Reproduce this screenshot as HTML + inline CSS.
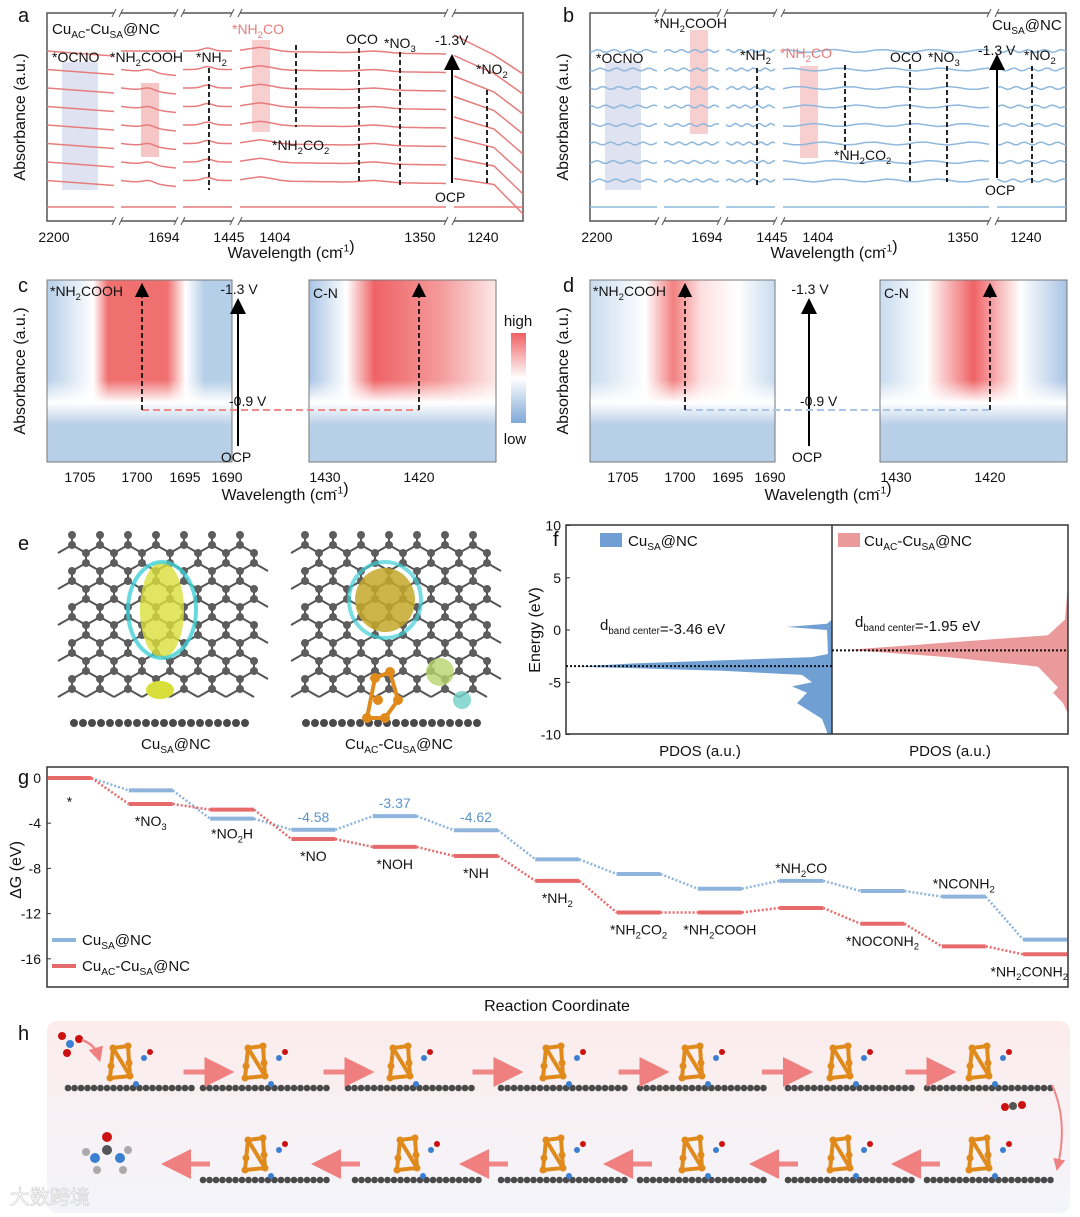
<!DOCTYPE html>
<html><head><meta charset="utf-8">
<style>
body{margin:0;background:#fff;}
svg{display:block;font-family:"Liberation Sans","Noto Sans CJK SC",sans-serif;}
</style></head>
<body>
<svg id="fig" width="1080" height="1217" viewBox="0 0 1080 1217" xmlns="http://www.w3.org/2000/svg">
<defs>
<linearGradient id="cbar" x1="0" y1="0" x2="0" y2="1"><stop offset="0" stop-color="#ef5f62"/><stop offset="0.5" stop-color="#ffffff"/><stop offset="1" stop-color="#7ea8d6"/></linearGradient>
<linearGradient id="hbg" x1="0" y1="0" x2="0" y2="1"><stop offset="0" stop-color="#fcecec"/><stop offset="1" stop-color="#f3f5fb"/></linearGradient>
<linearGradient id="hmL" x1="0" y1="0" x2="1" y2="0"><stop offset="0" stop-color="#b6cfe8"/><stop offset="0.25" stop-color="#ffffff"/><stop offset="0.33" stop-color="#f07070"/><stop offset="0.65" stop-color="#f07070"/><stop offset="0.75" stop-color="#ffffff"/><stop offset="0.85" stop-color="#b6cfe8"/></linearGradient>
<linearGradient id="hmR" x1="0" y1="0" x2="1" y2="0"><stop offset="0" stop-color="#a8c4e4"/><stop offset="0.2" stop-color="#ffffff"/><stop offset="0.35" stop-color="#ef6265"/><stop offset="0.7" stop-color="#f49a9a"/><stop offset="1" stop-color="#fde8e8"/></linearGradient>
<linearGradient id="hmLd" x1="0" y1="0" x2="1" y2="0"><stop offset="0" stop-color="#c9dcef"/><stop offset="0.3" stop-color="#ffffff"/><stop offset="0.45" stop-color="#f28080"/><stop offset="0.6" stop-color="#fde0e0"/><stop offset="0.8" stop-color="#ffffff"/><stop offset="1" stop-color="#c9dcef"/></linearGradient>
<linearGradient id="hmRd" x1="0" y1="0" x2="1" y2="0"><stop offset="0" stop-color="#c9dcef"/><stop offset="0.25" stop-color="#ffffff"/><stop offset="0.5" stop-color="#ef6265"/><stop offset="0.75" stop-color="#ffffff"/><stop offset="1" stop-color="#a8c4e4"/></linearGradient>
<linearGradient id="fadeB" x1="0" y1="0" x2="0" y2="1"><stop offset="0" stop-color="#fff" stop-opacity="0"/><stop offset="0.5" stop-color="#ffffff" stop-opacity="1"/><stop offset="1" stop-color="#b8cfe8" stop-opacity="1"/></linearGradient>
<marker id="ah" markerWidth="8" markerHeight="8" refX="4" refY="4" orient="auto"><path d="M0,0 L8,4 L0,8 z" fill="#000"/></marker>
<marker id="ahr" markerWidth="6" markerHeight="6" refX="3" refY="3" orient="auto"><path d="M0,0 L6,3 L0,6 z" fill="#f07f7f"/></marker>
</defs>
<g id="root"></g>
</svg>
<script>
// ===== Panel g data =====
const gStates = ["*","*NO3","*NO2H","*NO","*NOH","*NH","*NH2","*NH2CO2","*NH2COOH","*NH2CO","*NOCONH2","*NCONH2","*NH2CONH2"];
const gBlue = [0,-1.1,-3.6,-4.58,-3.37,-4.62,-7.2,-8.5,-9.8,-9.1,-10.0,-10.5,-14.3];
const gRed = [0,-2.3,-2.8,-5.4,-6.1,-6.9,-9.1,-11.9,-11.9,-11.5,-12.9,-14.9,-15.6];
const gYTicks = [0,-4,-8,-12,-16];
const gBlueLabels = ["","","","-4.58","-3.37","-4.62","","","","","","",""];
// ===== Panel a/b data =====
const aXTicks = ["2200","1694","1445","1404","1350","1240"];
const fYTicks = [10,5,0,-5,-10];
const fBlueCenter = -3.46, fRedCenter = -1.95;

const NS="http://www.w3.org/2000/svg";
const root=document.getElementById('root');
function el(tag,attrs,parent,text){const e=document.createElementNS(NS,tag);for(const k in attrs)e.setAttribute(k,attrs[k]);if(text!==undefined)e.textContent=text;(parent||root).appendChild(e);return e;}
function txt(x,y,s,size,parent,anchor,fill){return el('text',{x:x,y:y,'font-size':size||14,'text-anchor':anchor||'start',fill:fill||'#111'},parent,s);}
function sub(x,y,parts,size,parent,anchor,fill){
  const t=el('text',{x:x,y:y,'font-size':size,'text-anchor':anchor||'start',fill:fill||'#111'},parent);
  parts.forEach(p=>{const ts=el('tspan',{},t,p[0]);if(p[1]=='s'){ts.setAttribute('font-size',size*0.65);ts.setAttribute('dy',size*0.25);}else if(p[1]=='p'){ts.setAttribute('font-size',size*0.65);ts.setAttribute('dy',-size*0.4);}else if(p[1]=='r'){ts.setAttribute('dy',0);}});
  return t;}
function label(x,y,s,size,parent,anchor,fill){
  const tok=s.split(/(SA|AC|\d)/).filter(z=>z!=='');
  const t=el('text',{x:x,y:y,'font-size':size,'text-anchor':anchor||'start',fill:fill||'#111'},parent);
  let inSub=false;
  tok.forEach(k=>{const isSub=/^(SA|AC|\d)$/.test(k)&& !(k.match(/^\d$/)&&s.startsWith('-'));
    const ts=el('tspan',{},t,k);
    if(isSub&&!inSub){ts.setAttribute('font-size',size*0.68);ts.setAttribute('dy',size*0.28);inSub=true;}
    else if(isSub){ts.setAttribute('font-size',size*0.68);}
    else if(inSub){ts.setAttribute('dy',-size*0.28);inSub=false;}
  });
  return t;}

const letters=[['a',18,22],['b',563,22],['c',18,292],['d',563,292],['e',18,550],['f',553,546],['g',18,784],['h',18,1040]];
letters.forEach(l=>{const t=txt(l[1],l[2],l[0],20);});

// ===== Panels a & b =====
function spectraPanel(ox,col,shade,panelName){
  const g=el('g',{},root);
  
  
  const x0=ox,x1=ox+476,y0=13,y1=221;
  el('rect',{x:x0,y:y0,width:x1-x0,height:y1-y0,fill:'none',stroke:'#555','stroke-width':1.5},g);
  const segs=[[x0,x0+67],[x0+74,x0+129],[x0+136,x0+185],[x0+193,x0+399],[x0+407,x1]];
  [[x0+67,x0+74],[x0+129,x0+136],[x0+185,x0+193],[x0+399,x0+407]].forEach(b=>{
    [y0,y1].forEach(yy=>{el('rect',{x:b[0],y:yy-4,width:b[1]-b[0],height:8,fill:'#fff'},g);
      el('line',{x1:b[0]-2,y1:yy+4,x2:b[0]+2,y2:yy-4,stroke:'#555'},g);el('line',{x1:b[1]-2,y1:yy+4,x2:b[1]+2,y2:yy-4,stroke:'#555'},g);});
  });
  el('rect',{x:x0+15,y:62,width:36,height:128,fill:'#dfe3f1'},g);
  if(ox<300){el('rect',{x:x0+94,y:83,width:18,height:74,fill:'#f6c5c5'},g);el('rect',{x:x0+205,y:40,width:18,height:92,fill:'#f8cfcf'},g);}
  else{el('rect',{x:x0+100,y:30,width:18,height:104,fill:'#f8cfcf'},g);el('rect',{x:x0+210,y:66,width:18,height:92,fill:'#f8cfcf'},g);}
  const n=9;
  for(let i=0;i<n;i++){
    const base=y1-14-i*18.5-(i>0?8:0);
    segs.forEach((s,si)=>{
      let d='';const steps=20;
      for(let k=0;k<=steps;k++){const x=s[0]+ (s[1]-s[0])*k/steps;
        let y=base;
        if(si==0&&ox<300&&i>0){y+=k*0.25;}
        if(si==1&&ox<300&&i>0&&i<8){y+= -3*Math.exp(-Math.pow((k-10)/3,2))+k*0.3;}
        if(si==3&&ox<300&&i>0){y+= -4*Math.exp(-Math.pow((k-2)/1.5,2)) -2*Math.exp(-Math.pow((k-13)/1.5,2))+k*0.15;}
        if(si==2&&ox<300&&i>0){y+= -3*Math.exp(-Math.pow((k-10)/3,2));}
        if(ox>300&&i>0){y+= 1.5*Math.sin(k*1.3+si+i);}
        d+=(k?'L':'M')+x.toFixed(1)+','+y.toFixed(1);}
      if(si==4&&ox<300&&i>0){ d='M'+s[0]+','+(base-i*2)+' L'+(s[0]+40)+','+(base+4)+' L'+s[1]+','+Math.min(base+35-i*1.5,y1-2); }
      el('path',{d:d,fill:'none',stroke:col,'stroke-width':1.5},g);
    });
  }
  const tx=[x0+7,x0+117,x0+182,x0+228,x0+373,x0+436];
  aXTicks.forEach((t,i)=>txt(tx[i],242,t,14,g,'middle'));
  txt(x0+238,258,'Wavelength (cm',16,g,'middle');
  sub(x0+293,258,[[ '-1','p'],[')','n']],16,g);
  const yl=txt(0,0,'Absorbance (a.u.)',16,g,'middle');yl.setAttribute('transform',`translate(${ox-22},117) rotate(-90)`);
  return g;
}
const ga=spectraPanel(47,'#e77c7c','','panel-a-spectra');
const gb=spectraPanel(590,'#8fb8dc','','panel-b-spectra');
label(52,34,'CuAC-CuSA@NC',15,ga);
label(52,62,'*OCNO',14,ga);label(110,62,'*NH2COOH',14,ga);label(196,62,'*NH2',14,ga);
label(232,34,'*NH2CO',14,ga,'start','#e77c7c');label(346,44,'OCO',14,ga);label(384,48,'*NO3',14,ga);
label(272,150,'*NH2CO2',14,ga);label(476,74,'*NO2',14,ga);txt(435,45,'-1.3V',14,ga);txt(435,202,'OCP',14,ga);
el('line',{x1:452,y1:183,x2:452,y2:62,stroke:'#000','stroke-width':2,'marker-end':'url(#ah)'},ga);
[[209,68,190],[296,45,127],[359,48,182],[400,52,188],[487,90,185]].forEach(v=>el('line',{x1:v[0],y1:v[1],x2:v[0],y2:v[2],stroke:'#111','stroke-width':1.8,'stroke-dasharray':'5,3'},ga));
label(992,30,'CuSA@NC',15,gb);label(596,63,'*OCNO',14,gb);label(654,28,'*NH2COOH',14,gb);label(740,60,'*NH2',14,gb);
label(780,58,'*NH2CO',14,gb,'start','#e77c7c');label(890,62,'OCO',14,gb);label(928,62,'*NO3',14,gb);
label(834,160,'*NH2CO2',14,gb);label(1024,60,'*NO2',14,gb);txt(978,55,'-1.3 V',14,gb);txt(985,195,'OCP',14,gb);
el('line',{x1:997,y1:178,x2:997,y2:62,stroke:'#000','stroke-width':2,'marker-end':'url(#ah)'},gb);
[[757,68,185],[845,65,150],[910,64,182],[947,66,182],[1032,66,185]].forEach(v=>el('line',{x1:v[0],y1:v[1],x2:v[0],y2:v[2],stroke:'#111','stroke-width':1.8,'stroke-dasharray':'5,3'},gb));

// ===== Panels c & d =====
function heatPanel(ox,gL,gR,dash,name,rx){
  const g=el('g',{},root);
  
  
  const L=[ox,ox+185],R=[ox+rx,ox+rx+187],y0=280,y1=462;
  [[L,gL,'heatmap-left'],[R,gR,'heatmap-right']].forEach(h=>{
    const r=el('rect',{x:h[0][0],y:y0,width:h[0][1]-h[0][0],height:y1-y0,fill:`url(#${h[1]})`,stroke:'#777'},g);
    
    
    el('rect',{x:h[0][0]+0.5,y:y0+100,width:h[0][1]-h[0][0]-1,height:45,fill:'url(#fadeB)'},g);
    el('rect',{x:h[0][0]+0.5,y:y0+145,width:h[0][1]-h[0][0]-1,height:y1-y0-145.5,fill:'#b8cfe8'},g);
  });
  const yl=txt(0,0,'Absorbance (a.u.)',16,g,'middle');yl.setAttribute('transform',`translate(${ox-22},371) rotate(-90)`);
  txt(ox+rx-73,462,'OCP',14,g,'middle');txt(ox+rx-70,294,'-1.3 V',14,g,'middle');
  el('line',{x1:ox+rx-71,y1:446,x2:ox+rx-71,y2:306,stroke:'#000','stroke-width':2,'marker-end':'url(#ah)'},g);
  txt(ox+rx-80,406,'-0.9 V',14,g,'start');
  const hx1=ox+95,hx2=ox+rx+110;
  el('line',{x1:hx1,y1:410,x2:hx2,y2:410,stroke:dash,'stroke-width':2,'stroke-dasharray':'7,4'},g);
  [hx1,hx2].forEach(x=>el('line',{x1:x,y1:410,x2:x,y2:290,stroke:'#111','stroke-width':1.8,'stroke-dasharray':'5,3','marker-end':'url(#ah)'},g));
  label(ox+3,296,'*NH2COOH',14,g);txt(ox+rx+4,298,'C-N',14,g);
  const lt=['1705','1700','1695','1690'];[ox+33,ox+90,ox+138,ox+180].forEach((x,i)=>txt(x,482,lt[i],14,g,'middle'));
  txt(ox+rx+16,482,'1430',14,g,'middle');txt(ox+rx+110,482,'1420',14,g,'middle');
  txt(ox+232,500,'Wavelength (cm',16,g,'middle');sub(ox+287,500,[['-1','p'],[')','n']],16,g);
  return g;
}
const gc=heatPanel(47,'hmL','hmR','#f08b8b','panel-c-heatmaps',262);
const gd=heatPanel(590,'hmLd','hmRd','#a9c6e4','panel-d-heatmaps',290);
el('rect',{x:511,y:333,width:15,height:90,fill:'url(#cbar)'},gc);
txt(518,326,'high',15,gc,'middle');txt(515,444,'low',15,gc,'middle');

// ===== Panel e =====
function lattice(ox,oy,name){
  const g=el('g',{},root);
  const pts=[];
  for(let r=0;r<9;r++)for(let c=0;c<7;c++){
    const x=ox+c*28+(r%2?14:0),y=oy+r*18;
    pts.push([x,y]);pts.push([x,y+10]);
    el('line',{x1:x,y1:y,x2:x,y2:y+10,stroke:'#555','stroke-width':2},g);
    el('line',{x1:x,y1:y+10,x2:x+14,y2:y+18,stroke:'#555','stroke-width':2},g);
    el('line',{x1:x,y1:y+10,x2:x-14,y2:y+18,stroke:'#555','stroke-width':2},g);
  }
  pts.forEach(p=>el('circle',{cx:p[0],cy:p[1],r:4,fill:'#5d5d5d'},g));
  return g;
}
const le1=lattice(72,535,'lattice-cusa');const le2=lattice(305,535,'lattice-cuac');
el('ellipse',{cx:162,cy:610,rx:22,ry:48,fill:'#d9df3a',opacity:0.8},le1);
el('ellipse',{cx:162,cy:610,rx:34,ry:48,fill:'none',stroke:'#40cfd6','stroke-width':4,opacity:0.8},le1);
el('ellipse',{cx:385,cy:600,rx:30,ry:32,fill:'#c6a82a',opacity:0.85},le2);
el('ellipse',{cx:385,cy:600,rx:36,ry:38,fill:'none',stroke:'#40cfd6','stroke-width':4,opacity:0.7},le2);
function slab(x,y,n,g,sp){for(let i=0;i<n;i++)el('circle',{cx:x+i*(sp||9),cy:y,r:4,fill:'#4a4a4a'},g);}
slab(74,723,20,le1);slab(306,723,20,le2);
el('ellipse',{cx:160,cy:690,rx:14,ry:9,fill:'#d9df3a'},le1);
el('path',{d:'M367,718 L375,678 L390,672 L398,700 L385,718 Z',fill:'none',stroke:'#e08a1c','stroke-width':4},le2);
[[375,678],[390,672],[398,700],[367,718],[385,718],[378,700]].forEach(p=>el('circle',{cx:p[0],cy:p[1],r:5,fill:'#e08a1c'},le2));
el('ellipse',{cx:440,cy:672,rx:14,ry:14,fill:'#b6d36a',opacity:0.8},le2);el('ellipse',{cx:462,cy:700,rx:9,ry:9,fill:'#6fd1c6',opacity:0.8},le2);
label(141,749,'CuSA@NC',15,le1);label(345,749,'CuAC-CuSA@NC',15,le2);

// ===== Panel f =====
(function(){
  const g=el('g',{},root);
  const x0=566,x1=1068,xm=832,y0=525,y1=734;
  const ys=v=>630-v*10.45;
  el('path',{d:`M${xm},${ys(1)} L${xm-5},${ys(0.6)} L${xm-45},${ys(0.3)} L${xm-5},${ys(0)} L${xm-4},${ys(-2.3)} L${xm-20},${ys(-2.6)} L${xm-200},${ys(-3.2)} L${xm-255},${ys(-3.5)} L${xm-110},${ys(-3.9)} L${xm-30},${ys(-4.3)} L${xm-20},${ys(-5)} L${xm-40},${ys(-5.4)} L${xm-25},${ys(-6)} L${xm-35},${ys(-7)} L${xm-10},${ys(-8.5)} L${xm-4},${ys(-10)} L${xm},${ys(-10)} Z`,fill:'#6f9fd3'},g);
  el('path',{d:`M${x1},${ys(4.5)} L${x1-3},${ys(1)} L${x1-20},${ys(-0.5)} L${x1-120},${ys(-1.2)} L${x1-220},${ys(-1.9)} L${x1-120},${ys(-2.6)} L${x1-30},${ys(-3.5)} L${x1-10},${ys(-5.5)} L${x1-15},${ys(-6)} L${x1-5},${ys(-7)} L${x1},${ys(-8)} Z`,fill:'#eb9a9c'},g);
  el('rect',{x:x0,y:y0,width:x1-x0,height:y1-y0,fill:'none',stroke:'#333','stroke-width':1.5},g);
  el('line',{x1:xm,y1:y0,x2:xm,y2:y1,stroke:'#333','stroke-width':1.5},g);
  el('line',{x1:x0,y1:ys(fBlueCenter),x2:xm,y2:ys(fBlueCenter),stroke:'#111','stroke-width':2,'stroke-dasharray':'2,2'},g);
  el('line',{x1:xm,y1:ys(fRedCenter),x2:x1,y2:ys(fRedCenter),stroke:'#111','stroke-width':2,'stroke-dasharray':'2,2'},g);
  fYTicks.forEach(v=>{txt(x0-5,ys(v)+5,String(v),14,g,'end');el('line',{x1:x0,y1:ys(v),x2:x0+4,y2:ys(v),stroke:'#333'},g);});
  const yl=txt(0,0,'Energy (eV)',16,g,'middle');yl.setAttribute('transform','translate(540,630) rotate(-90)');
  el('rect',{x:600,y:533,width:22,height:14,fill:'#6f9fd3'},g);label(628,546,'CuSA@NC',15,g);
  el('rect',{x:838,y:533,width:22,height:14,fill:'#eb9a9c'},g);label(864,546,'CuAC-CuSA@NC',15,g);
  sub(600,630,[['d','n'],['band center','s'],['=-3.46 eV','r']],15,g);
  sub(855,627,[['d','n'],['band center','s'],['=-1.95 eV','r']],15,g);
  txt(700,756,'PDOS (a.u.)',15,g,'middle');txt(950,756,'PDOS (a.u.)',15,g,'middle');
})();

// ===== Panel g =====
(function(){
  const g=el('g',{},root);
  const x0=47,x1=1068,y0=767,y1=987;
  const ys=v=>778+(-v)*11.3;
  const xc=i=>69.5+i*81.3, hw=22;
  el('rect',{x:x0,y:y0,width:x1-x0,height:y1-y0,fill:'none',stroke:'#333','stroke-width':1.5},g);
  gYTicks.forEach(v=>{txt(x0-6,ys(v)+5,String(v),14,g,'end');el('line',{x1:x0,y1:ys(v),x2:x0+4,y2:ys(v),stroke:'#333'},g);});
  const yl=txt(0,0,'ΔG (eV)',16,g,'middle');yl.setAttribute('transform','translate(21,870) rotate(-90)');
  [[gBlue,'#8fb4dc','blue'],[gRed,'#e76a6b','red']].forEach(s=>{
    const vals=s[0];
    vals.forEach((v,i)=>{
      const b=el('line',{x1:xc(i)-hw,y1:ys(v),x2:xc(i)+hw,y2:ys(v),stroke:s[1],'stroke-width':4},g);
      
      
      if(i<vals.length-1){el('line',{x1:xc(i)+hw,y1:ys(v),x2:xc(i+1)-hw,y2:ys(vals[i+1]),stroke:s[1],'stroke-width':2.5,'stroke-dasharray':'2,2'},g);}
    });
  });
  gBlueLabels.forEach((l,i)=>{if(l)txt(xc(i),ys(gBlue[i])-8,l,14,g,'middle','#5b95cc');});
  gStates.forEach((s,i)=>{
    let y;
    if(i==0)y=ys(-2.5);
    else if(i==9||i==11)y=ys(gBlue[i])-8;
    else if(i==2)y=ys(gBlue[i])+20;
    else y=ys(gRed[i])+22;
    if(i==12)label(1068,y,s,14,g,'end');
    else label(xc(i),y,s,14,g,'middle');
  });
  el('line',{x1:52,y1:940,x2:76,y2:940,stroke:'#8fb4dc','stroke-width':4},g);label(82,945,'CuSA@NC',15,g);
  el('line',{x1:52,y1:966,x2:76,y2:966,stroke:'#e76a6b','stroke-width':4},g);label(82,971,'CuAC-CuSA@NC',15,g);
  txt(557,1011,'Reaction Coordinate',16,g,'middle');
})();

// ===== Panel h =====
(function(){
  const g=el('g',{},root);
  el('rect',{x:47,y:1021,width:1023,height:192,rx:10,fill:'url(#hbg)'},g);
  function struct(cx,sy){
    for(let i=0;i<20;i++)el('circle',{cx:cx-60+i*6.5,cy:sy,r:3.3,fill:'#4a4a4a'},g);
    el('path',{d:`M${cx-18},${sy-10} L${cx-15},${sy-40} L${cx},${sy-42} L${cx+2},${sy-12} Z M${cx-15},${sy-40} L${cx+2},${sy-12}`,fill:'none',stroke:'#e08a1c','stroke-width':4},g);
    [[cx-15,sy-40],[cx,sy-42],[cx-17,sy-22],[cx+1,sy-25],[cx-18,sy-10],[cx+2,sy-12]].forEach(p=>el('circle',{cx:p[0],cy:p[1],r:3.5,fill:'#e08a1c'},g));
    el('circle',{cx:cx+8,cy:sy-4,r:3,fill:'#3c7fd0'},g);el('circle',{cx:cx+16,cy:sy-30,r:3,fill:'#3c7fd0'},g);el('circle',{cx:cx+22,cy:sy-36,r:3,fill:'#c11'},g);
  }
  const top=[128,263,408,561,700,848,987];const bot=[987,848,700,561,415,263];
  top.forEach(x=>struct(x,1088));bot.forEach(x=>struct(x,1180));
  for(let i=0;i<6;i++){const a=(top[i]+top[i+1])/2+10;el('line',{x1:a-22,y1:1072,x2:a+14,y2:1072,stroke:'#f08585','stroke-width':5,'marker-end':'url(#ahr)'},g);}
  const bx=[920,778,632,488,340,190];
  bx.forEach(a=>el('line',{x1:a+20,y1:1164,x2:a-14,y2:1164,stroke:'#f08585','stroke-width':5,'marker-end':'url(#ahr)'},g));
  el('path',{d:'M1052,1085 Q1068,1120 1058,1165',fill:'none',stroke:'#f08585','stroke-width':2,'marker-end':'url(#ahr)'},g);
  el('circle',{cx:62,cy:1036,r:4,fill:'#c11'},g);el('circle',{cx:70,cy:1044,r:4,fill:'#3c7fd0'},g);el('circle',{cx:79,cy:1039,r:4,fill:'#c11'},g);el('circle',{cx:67,cy:1053,r:4,fill:'#c11'},g);
  el('path',{d:'M82,1040 Q95,1045 98,1055',fill:'none',stroke:'#f08585','stroke-width':2.5,'marker-end':'url(#ahr)'},g);
  el('circle',{cx:1005,cy:1107,r:4,fill:'#c11'},g);el('circle',{cx:1013,cy:1106,r:4,fill:'#555'},g);el('circle',{cx:1022,cy:1105,r:4,fill:'#c11'},g);
  el('circle',{cx:107,cy:1150,r:5,fill:'#555'},g);el('circle',{cx:107,cy:1137,r:5,fill:'#c11'},g);el('circle',{cx:95,cy:1158,r:5,fill:'#3c7fd0'},g);el('circle',{cx:120,cy:1158,r:5,fill:'#3c7fd0'},g);
  [[86,1152],[97,1170],[128,1150],[123,1170]].forEach(p=>el('circle',{cx:p[0],cy:p[1],r:4,fill:'#aaa'},g));
  const wm=txt(10,1204,'\u5927\u6570\u8de8\u5883',20,g,'start','#ffffff');wm.setAttribute('stroke','#ccc');wm.setAttribute('stroke-width','0.6');
})();
</script>
</body></html>
